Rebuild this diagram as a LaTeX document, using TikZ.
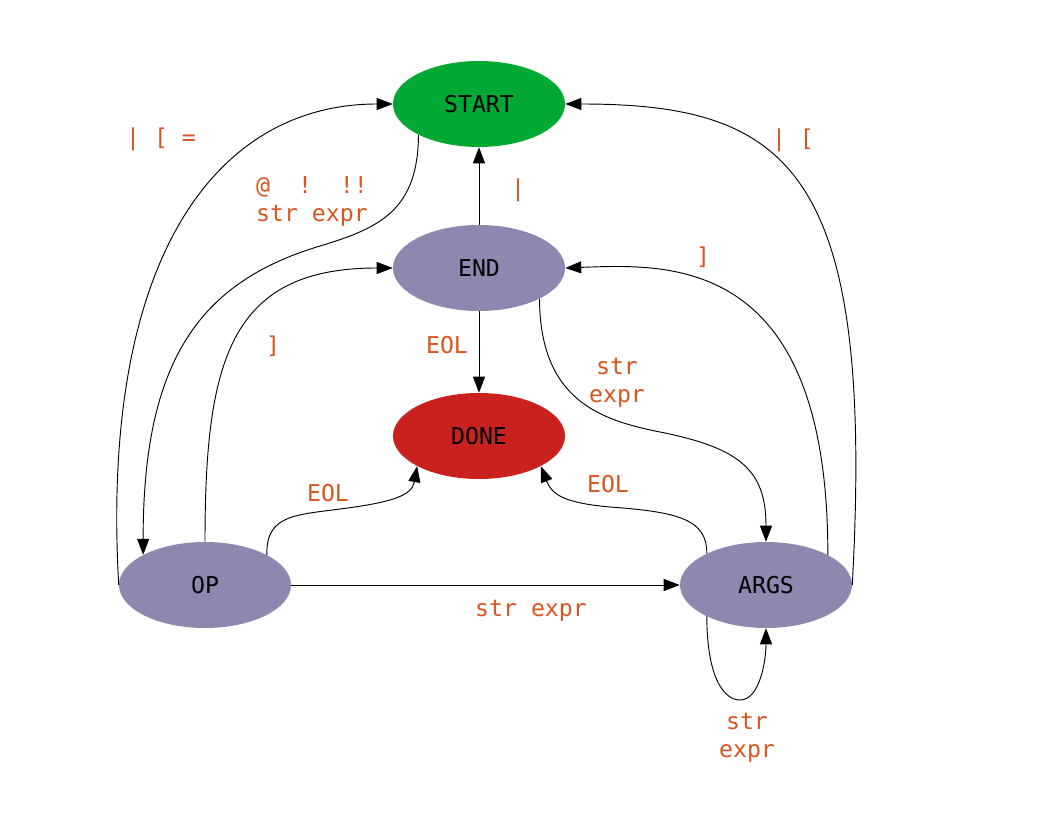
\documentclass[tikz,border=0pt]{standalone}
\usepackage{fontspec}
\setmonofont{DejaVu Sans Mono}
\usetikzlibrary{shapes.geometric,arrows.meta}
\definecolor{stgreen}{RGB}{0,169,51}
\definecolor{stpurple}{RGB}{142,136,176}
\definecolor{stred}{RGB}{201,33,30}
\definecolor{lblcol}{RGB}{218,85,30}
\tikzset{
  state/.style={ellipse, draw=none, inner sep=0pt, minimum width=129pt, minimum height=64.5pt,
    font=\ttfamily\fontsize{17.4}{21}\selectfont, text=black},
  lbl/.style={font=\ttfamily\fontsize{17.4}{21}\selectfont, text=lblcol, align=center, inner sep=0pt},
  edge/.style={draw=black, line width=0.7pt, -{Triangle[length=12pt,width=9pt]}}
}
\begin{document}
\begin{tikzpicture}[x=0.75pt,y=-0.75pt]
\useasboundingbox (0,0) rectangle (1056,816);
\fill[white] (0,0) rectangle (1056,816);
\node[state, fill=stgreen] (start) at (479,104) {START};
\node[state, fill=stpurple] (end) at (479,268) {END};
\node[state, fill=stred] (done) at (479,436) {DONE};
\node[state, fill=stpurple] (op) at (205,585) {OP};
\node[state, fill=stpurple] (args) at (766,585) {ARGS};

% OP -> START
\draw[edge] (op.west) .. controls (100,260) and (215,104) .. (start.west);
% START -> OP
\draw[edge] (start.207) .. controls (418,210) and (380,228) .. (320,246)
   .. controls (200,282) and (143,360) .. (op.154);
% END -> START
\draw[edge] (end.north) -- (start.south);
% END -> DONE
\draw[edge] (end.south) -- (done.north);
% OP -> END
\draw[edge] (op.north) .. controls (205,360) and (230,268) .. (end.west);
% END -> ARGS
\draw[edge] (end.333) .. controls (540,400) and (600,420) .. (660,432)
   .. controls (740,448) and (766,470) .. (args.north);
% ARGS -> END
\draw[edge] (args.26) .. controls (828,255) and (670,264) .. (end.east);
% ARGS -> START
\draw[edge] (args.east) .. controls (875,170) and (790,104) .. (start.east);
% OP -> DONE
\draw[edge] (op.26) .. controls (266,515) and (295,515) .. (340,509)
   .. controls (395,502) and (412,495) .. (done.206);
% ARGS -> DONE
\draw[edge] (args.152) .. controls (707,520) and (680,512) .. (610,507)
   .. controls (565,503) and (552,495) .. (done.334);
% OP -> ARGS
\draw[edge] (op.east) -- (args.west);
% ARGS loop
\draw[edge] (args.208) .. controls (707,680) and (725,700) .. (740,700)
   .. controls (760,700) and (766,660) .. (args.south);

% labels
\node[lbl] (l1) at (161,139) {|~[~=};
\node[lbl] (l2) at (312,201) {@~~!~~!!\\str~expr};
\node[lbl] (l3) at (518,190) {|};
\node[lbl] (l4) at (703,257) {]};
\node[lbl] (l5) at (273,346) {]};
\node[lbl] (l6) at (447,345) {EOL};
\node[lbl] (l7) at (617,383) {str\\expr};
\node[lbl] (l8) at (793,140) {|~[};
\node[lbl] (l9) at (328,493) {EOL};
\node[lbl] (l10) at (608,484) {EOL};
\node[lbl] (l11) at (531,611) {str~expr};
\node[lbl] (l12) at (747,738) {str\\expr};
\end{tikzpicture}
\end{document}
